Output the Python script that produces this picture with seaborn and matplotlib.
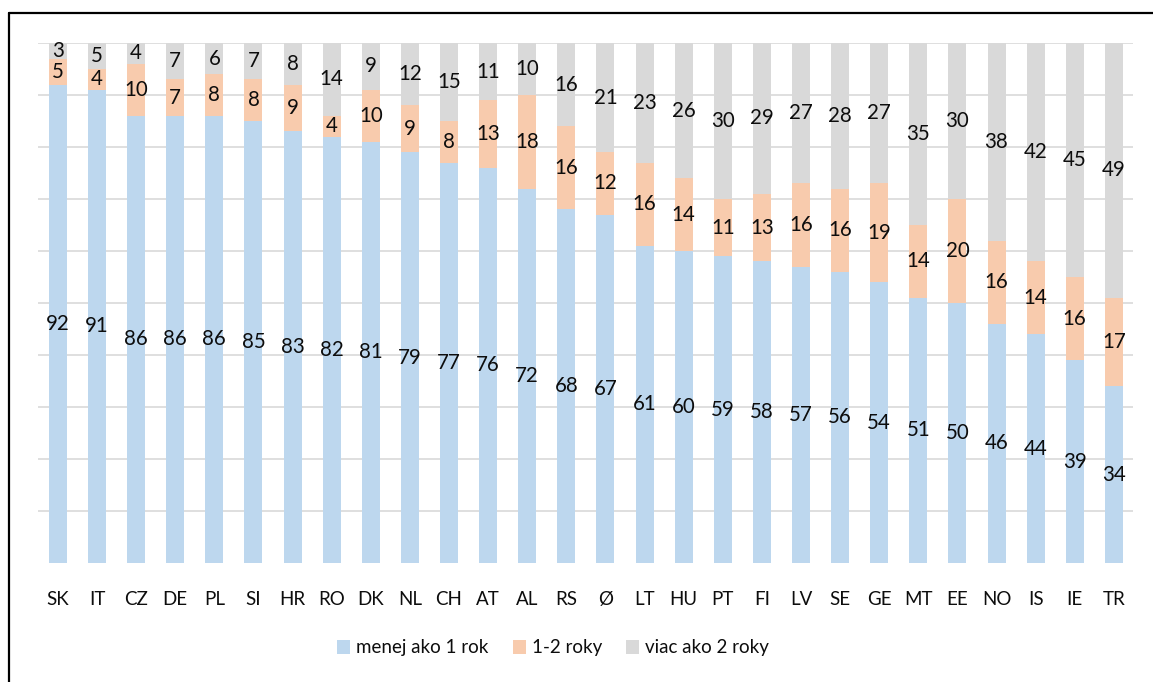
import matplotlib
matplotlib.use("Agg")
import matplotlib.pyplot as plt
import seaborn as sns
import pandas as pd
import numpy as np
from matplotlib.lines import Line2D
from matplotlib.patches import Patch

countries = ["SK", "IT", "CZ", "DE", "PL", "SI", "HR", "RO", "DK", "NL", "CH", "AT", "AL", "RS", "Ø",
             "LT", "HU", "PT", "FI", "LV", "SE", "GE", "MT", "EE", "NO", "IS", "IE", "TR"]
less_1 = [92, 91, 86, 86, 86, 85, 83, 82, 81, 79, 77, 76, 72, 68, 67,
          61, 60, 59, 58, 57, 56, 54, 51, 50, 46, 44, 39, 34]
one_two = [5, 4, 10, 7, 8, 8, 9, 4, 10, 9, 8, 13, 18, 16, 12,
           16, 14, 11, 13, 16, 16, 19, 14, 20, 16, 14, 16, 17]
more_2 = [3, 5, 4, 7, 6, 7, 8, 14, 9, 12, 15, 11, 10, 16, 21,
          23, 26, 30, 29, 27, 28, 27, 35, 30, 38, 42, 45, 49]
series_names = ["menej ako 1 rok", "1-2 roky", "viac ako 2 roky"]

colors = ["#BDD7EE", "#F8CBAD", "#D9D9D9"]
font = ["Lato", "DejaVu Sans"]
fs_lab = 14.8
fs_tick = 13.5
txt = "#0d0d0d"

sns.set_theme(style="white")
plt.rcParams["font.family"] = font

df = pd.DataFrame({"country": countries, "a": less_1, "b": one_two, "c": more_2})
df["ab"] = df["a"] + df["b"]
df["abc"] = df["ab"] + df["c"]

fig = plt.figure(figsize=(11.53, 6.82), dpi=100)
ax = fig.add_axes([38 / 1153, 1 - 563 / 682, (1133 - 38) / 1153, (563 - 43) / 682])

w = 0.46
sns.barplot(data=df, x="country", y="abc", color=colors[2], width=w, ax=ax, saturation=1, zorder=2)
sns.barplot(data=df, x="country", y="ab", color=colors[1], width=w, ax=ax, saturation=1, zorder=2)
sns.barplot(data=df, x="country", y="a", color=colors[0], width=w, ax=ax, saturation=1, zorder=2)
for p in ax.patches:
    p.set_edgecolor("none")

ax.set_ylim(0, 100)
ax.set_xlim(-0.51, len(countries) - 1 + 0.49)
ax.set_yticks(np.arange(10, 101, 10))
ax.yaxis.grid(True, color="#D9D9D9", linewidth=1.2, zorder=0)
ax.set_axisbelow(True)
ax.tick_params(axis="y", left=False, labelleft=False)
ax.tick_params(axis="x", bottom=False, pad=14, labelsize=fs_tick, labelcolor=txt)
ax.set_xlabel("")
ax.set_ylabel("")
for s in ax.spines.values():
    s.set_visible(False)

for i in range(len(countries)):
    segs = [(less_1[i], 0), (one_two[i], less_1[i]), (more_2[i], less_1[i] + one_two[i])]
    for v, base in segs:
        ax.text(i, base + v / 2, str(v), ha="center", va="center", fontsize=fs_lab,
                color=txt, zorder=5)

handles = [Patch(facecolor=c, edgecolor="none") for c in colors]
fig.legend(handles, series_names, loc="center", bbox_to_anchor=(553 / 1153, 1 - 648 / 682),
           ncol=3, frameon=False, fontsize=fs_tick, handlelength=0.7, handleheight=0.7,
           handletextpad=0.3, columnspacing=1.3, labelcolor=txt)

# outer frame (top and left edges visible)
fig.add_artist(Line2D([9 / 1153, 9 / 1153], [0, 1 - 13 / 682], color="black", linewidth=1.6,
                      transform=fig.transFigure))
fig.add_artist(Line2D([9 / 1153, 1], [1 - 13 / 682, 1 - 13 / 682], color="black", linewidth=1.6,
                      transform=fig.transFigure))

fig.savefig("out.png", dpi=100)
